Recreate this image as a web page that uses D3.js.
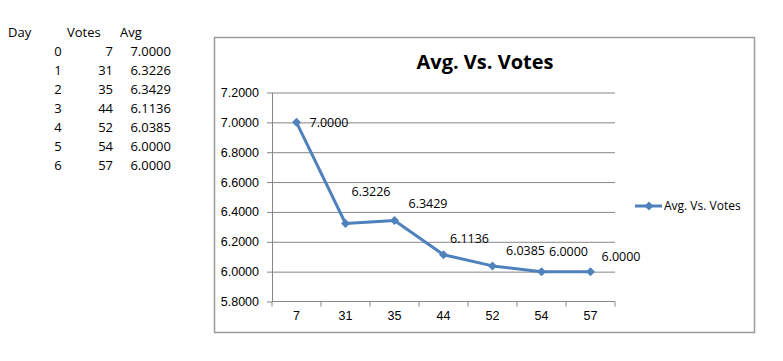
<!DOCTYPE html>
<html>
<head>
<meta charset="utf-8">
<script src="https://cdn.jsdelivr.net/npm/d3@7"></script>
<style>
  body { margin: 0; background: #fff; }
  svg { display: block; font-family: "Open Sans", sans-serif; }
  .axis path, .axis line { stroke: #868686; }
  .axis text { font-size: 12.5px; fill: #000; }
  .grid line { stroke: #868686; }
  .grid path { display: none; }
</style>
</head>
<body>
<svg width="783" height="361"></svg>
<script>
// data
var days = [0, 1, 2, 3, 4, 5, 6];
var votes = [7, 31, 35, 44, 52, 54, 57];
var avgs = [7.0000, 6.3226, 6.3429, 6.1136, 6.0385, 6.0000, 6.0000];
var yTicks = [5.8, 6.0, 6.2, 6.4, 6.6, 6.8, 7.0, 7.2];
var title = "Avg. Vs. Votes";

// hand placed label nudges (dx, dy from the point)
var labelDx = [13, 6, 14, 6.5, 13.5, 7.5, 11];
var labelDy = [0, -32, -16.5, -16.5, -15, -20, -15.5];

var fmt = d3.format(".4f");
var svg = d3.select("svg");

// ---- worksheet table on the left
var table = svg.append("g").attr("font-size", "13px").attr("fill", "#000");
table.append("text").attr("x", 8).attr("y", 32).attr("dy", "0.35em").text("Day");
table.append("text").attr("x", 67).attr("y", 32).attr("dy", "0.35em").text("Votes");
table.append("text").attr("x", 120).attr("y", 32).attr("dy", "0.35em").text("Avg");
days.forEach(function (d, i) {
    var yy = 51 + i * 19;
    table.append("text").attr("x", 58).attr("y", yy).attr("dy", "0.35em")
        .attr("text-anchor", "middle").text(d);
    table.append("text").attr("x", 113).attr("y", yy).attr("dy", "0.35em")
        .attr("text-anchor", "end").text(votes[i]);
    table.append("text").attr("x", 171).attr("y", yy).attr("dy", "0.35em")
        .attr("text-anchor", "end").text(fmt(avgs[i]));
});

// ---- chart frame
svg.append("rect")
    .attr("x", 214.5).attr("y", 37.5)
    .attr("width", 540).attr("height", 295)
    .attr("fill", "#fff").attr("stroke", "#9a9a9a").attr("stroke-width", 1.5);

svg.append("text")
    .attr("x", 485).attr("y", 62).attr("dy", "0.35em")
    .attr("text-anchor", "middle")
    .attr("font-size", "20px").attr("font-weight", "bold")
    .text(title);

var margin = { left: 272, right: 615, top: 92.5, bottom: 301.5 };

var x = d3.scaleBand()
    .domain(votes.map(String))
    .range([margin.left, margin.right])
    .padding(0);
var y = d3.scaleLinear()
    .domain([5.8, 7.2])
    .range([margin.bottom, margin.top]);

// gridlines
svg.append("g")
    .attr("class", "grid")
    .attr("transform", "translate(" + margin.left + ",0)")
    .call(d3.axisLeft(y).tickValues(yTicks.slice(1))
        .tickSize(-(margin.right - margin.left)).tickFormat(""));

// y axis
svg.append("g")
    .attr("class", "axis")
    .attr("transform", "translate(" + margin.left + ",0)")
    .call(d3.axisLeft(y).tickValues(yTicks).tickFormat(fmt)
        .tickSize(5).tickSizeOuter(0).tickPadding(8));

// x axis labels
var xAxis = svg.append("g")
    .attr("class", "axis")
    .attr("transform", "translate(0," + margin.bottom + ")")
    .call(d3.axisBottom(x).tickSize(0).tickPadding(10));
xAxis.select(".domain").remove();
svg.append("line")
    .attr("x1", margin.left).attr("x2", margin.right)
    .attr("y1", margin.bottom).attr("y2", margin.bottom)
    .attr("stroke", "#868686");

// tick marks between categories
var edges = votes.map(function (v) { return x(String(v)); }).concat([margin.right]);
svg.append("g").selectAll("line")
    .data(edges)
    .enter().append("line")
    .attr("x1", function (d) { return d; })
    .attr("x2", function (d) { return d; })
    .attr("y1", margin.bottom)
    .attr("y2", margin.bottom + 5)
    .attr("stroke", "#868686");

// series
var cx = function (d, i) { return x(String(votes[i])) + x.bandwidth() / 2; };
var pts = avgs.map(function (a, i) { return [cx(a, i), y(a)]; });

svg.append("path")
    .datum(pts)
    .attr("fill", "none")
    .attr("stroke", "#4f81bd")
    .attr("stroke-width", 3)
    .attr("stroke-linejoin", "round")
    .attr("d", d3.line());

var diamond = "M0,-4.5L4.5,0L0,4.5L-4.5,0Z";
svg.append("g").selectAll("path")
    .data(pts)
    .enter().append("path")
    .attr("transform", function (d) { return "translate(" + d[0] + "," + d[1] + ")"; })
    .attr("d", diamond)
    .attr("fill", "#4f81bd");

svg.append("g").selectAll("text")
    .data(avgs)
    .enter().append("text")
    .attr("x", function (d, i) { return pts[i][0] + labelDx[i]; })
    .attr("y", function (d, i) { return pts[i][1] + labelDy[i]; })
    .attr("dy", "0.35em")
    .attr("font-size", "12.5px")
    .text(function (d) { return fmt(d); });

// legend
var lg = svg.append("g").attr("transform", "translate(635,206)");
lg.append("line").attr("x1", 0).attr("x2", 27)
    .attr("stroke", "#4f81bd").attr("stroke-width", 3);
lg.append("path").attr("transform", "translate(14,0)").attr("d", diamond).attr("fill", "#4f81bd");
lg.append("text").attr("x", 29).attr("dy", "0.35em")
    .attr("font-size", "12px").text(title);
</script>
</body>
</html>
